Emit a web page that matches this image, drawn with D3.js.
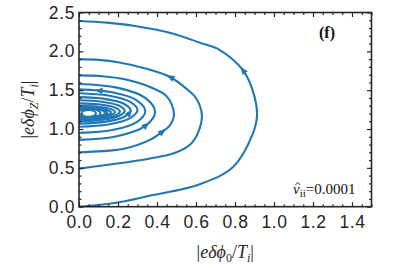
<!DOCTYPE html>
<html>
<head>
<meta charset="utf-8">
<script src="https://cdn.jsdelivr.net/npm/d3@7"></script>
<style>
  body { margin: 0; background: #fff; }
  svg { display: block; }
</style>
</head>
<body>
<div id="chart"></div>
<script>
// phase-space arcs, points ordered bottom -> right -> top (direction of the flow)
const outerArc = [[0,0],[0.19,0.05],[0.36,0.14],[0.62,0.29],[0.79,0.51],[0.89,0.93],[0.913,1.18],[0.89,1.5],[0.84,1.76],[0.72,2.02],[0.62,2.11],[0.48,2.23],[0.28,2.33],[0.14,2.37],[0,2.39]];
const arc2 = [[0,0.49],[0.12,0.53],[0.236,0.57],[0.364,0.62],[0.49,0.69],[0.57,0.8],[0.61,0.95],[0.63,1.18],[0.6,1.4],[0.56,1.5],[0.467,1.67],[0.34,1.78],[0.2,1.86],[0.1,1.89],[0,1.9]];
const arc3 = [[0,0.7],[0.12,0.715],[0.236,0.75],[0.364,0.86],[0.43,0.97],[0.467,1.05],[0.487,1.2],[0.45,1.42],[0.364,1.54],[0.236,1.64],[0.12,1.68],[0,1.69]];
const arc4 = [[0,0.86],[0.195,0.907],[0.34,1.04],[0.39,1.22],[0.34,1.4],[0.195,1.533],[0,1.58]];
const arc5 = [[0,0.95],[0.17,0.987],[0.296,1.09],[0.34,1.23],[0.296,1.37],[0.17,1.473],[0,1.51]];
const arc6 = [[0,1.03],[0.15,1.059],[0.26,1.137],[0.3,1.245],[0.26,1.352],[0.15,1.431],[0,1.46]];
const innerArcs = [
  [[0,1.07],[0.132,1.092],[0.23,1.155],[0.265,1.24],[0.23,1.325],[0.132,1.388],[0,1.41]],
  [[0,1.1],[0.118,1.118],[0.204,1.167],[0.235,1.235],[0.204,1.302],[0.118,1.352],[0,1.37]],
  [[0,1.12],[0.105,1.134],[0.183,1.172],[0.21,1.225],[0.183,1.277],[0.105,1.316],[0,1.33]],
  [[0,1.135],[0.092,1.146],[0.161,1.176],[0.185,1.218],[0.161,1.259],[0.092,1.289],[0,1.3]],
  [[0,1.145],[0.082,1.154],[0.144,1.179],[0.165,1.212],[0.144,1.246],[0.082,1.271],[0,1.28]],
  [[0,1.155],[0.072,1.162],[0.126,1.182],[0.145,1.21],[0.126,1.237],[0.072,1.258],[0,1.265]]
];
// small closed loops round the fixed point
const innerLoops = [
  [[0.013,1.202],[0.024,1.17],[0.05,1.157],[0.076,1.17],[0.087,1.202],[0.076,1.234],[0.05,1.247],[0.024,1.234]],
  [[-0.006,1.204],[0.011,1.164],[0.052,1.148],[0.093,1.164],[0.11,1.204],[0.093,1.244],[0.052,1.26],[0.011,1.244]],
  [[-0.023,1.206],[0,1.159],[0.055,1.14],[0.11,1.159],[0.133,1.206],[0.11,1.253],[0.055,1.272],[0,1.253]]
];
const arcs = [outerArc, arc2, arc3, arc4, arc5, arc6, ...innerArcs];

// arrow heads: which arc, and roughly where
const arrowArc = [0, 1, 2, 3, 4, 6];
const arrowX = [0.84, 0.467, 0.43, 0.347, 0.10, 0.262];
const arrowY = [1.76, 1.67, 0.97, 1.05, 1.51, 1.21];

const xTicks = [0, 0.2, 0.4, 0.6, 0.8, 1.0, 1.2, 1.4];
const yTicks = [0, 0.5, 1.0, 1.5, 2.0, 2.5];

const width = 407, height = 268;
const blue = "#2177b5";
const axisColor = "#262626";

const svg = d3.select("#chart").append("svg")
  .attr("width", width)
  .attr("height", height);

const x = d3.scaleLinear().domain([0, 1.5]).range([79, 371.5]);
const y = d3.scaleLinear().domain([0, 2.5]).range([206.7, 12.5]);

svg.append("clipPath").attr("id", "plot")
  .append("rect")
  .attr("x", x(0)).attr("y", y(2.5))
  .attr("width", x(1.5) - x(0)).attr("height", y(0) - y(2.5));

const line = d3.line().x(d => x(d[0])).y(d => y(d[1])).curve(d3.curveCatmullRom.alpha(0.5));
const loop = d3.line().x(d => x(d[0])).y(d => y(d[1])).curve(d3.curveCatmullRomClosed.alpha(0.5));

const g = svg.append("g").attr("clip-path", "url(#plot)");

const arcPaths = g.selectAll("path.arc")
  .data(arcs)
  .join("path")
  .attr("class", "arc")
  .attr("d", line)
  .attr("fill", "none")
  .attr("stroke", blue)
  .attr("stroke-width", 2.1);

g.selectAll("path.loop")
  .data(innerLoops)
  .join("path")
  .attr("class", "loop")
  .attr("d", loop)
  .attr("fill", "none")
  .attr("stroke", blue)
  .attr("stroke-width", 2.1);

// arrow heads along the arcs, pointing in the direction of the flow
const nodes = arcPaths.nodes();
arrowArc.forEach((ai, k) => {
  const p = nodes[ai];
  const total = p.getTotalLength();
  const tx = x(arrowX[k]), ty = y(arrowY[k]);
  let best = 0, bestD = Infinity;
  for (let l = 0; l <= total; l += 0.5) {
    const q = p.getPointAtLength(l);
    const dd = (q.x - tx) ** 2 + (q.y - ty) ** 2;
    if (dd < bestD) { bestD = dd; best = l; }
  }
  const a = p.getPointAtLength(Math.max(0, best - 1.5));
  const b = p.getPointAtLength(Math.min(total, best + 1.5));
  const ang = Math.atan2(b.y - a.y, b.x - a.x) * 180 / Math.PI;
  const c = p.getPointAtLength(best);
  g.append("path")
    .attr("d", "M4,0 L-4,-3.2 L-4,3.2 Z")
    .attr("fill", blue)
    .attr("transform", `translate(${c.x},${c.y}) rotate(${ang})`);
});

// frame with inward ticks on all four sides
const fmt = d3.format(".1f");
const xMinor = d3.range(0, 1.5001, 0.05).filter(v => Math.abs(v * 5 - Math.round(v * 5)) > 1e-6);
const yMinor = d3.range(0, 2.5001, 0.1).filter(v => Math.abs(v * 2 - Math.round(v * 2)) > 1e-6);

function styleAxis(sel) {
  sel.select(".domain").remove();
  sel.selectAll(".tick line").attr("stroke", axisColor).attr("stroke-width", 1.2);
  sel.selectAll("text")
    .attr("fill", axisColor)
    .style("font-family", "'Liberation Sans', Arial, sans-serif")
    .style("font-size", "17.5px")
    .style("letter-spacing", "0.6px");
}

svg.append("g").attr("transform", `translate(0,${y(0)})`)
  .call(d3.axisBottom(x).tickValues(xTicks).tickFormat(fmt).tickSizeInner(-4.5).tickSizeOuter(0).tickPadding(9))
  .call(styleAxis);
svg.append("g").attr("transform", `translate(0,${y(0)})`)
  .call(d3.axisBottom(x).tickValues(xMinor).tickFormat("").tickSizeInner(-2.5).tickSizeOuter(0))
  .call(styleAxis);
svg.append("g").attr("transform", `translate(0,${y(2.5)})`)
  .call(d3.axisTop(x).tickValues(xTicks).tickFormat("").tickSizeInner(-4.5).tickSizeOuter(0))
  .call(styleAxis);
svg.append("g").attr("transform", `translate(0,${y(2.5)})`)
  .call(d3.axisTop(x).tickValues(xMinor).tickFormat("").tickSizeInner(-2.5).tickSizeOuter(0))
  .call(styleAxis);

svg.append("g").attr("transform", `translate(${x(0)},0)`)
  .call(d3.axisLeft(y).tickValues(yTicks).tickFormat(fmt).tickSizeInner(-4.5).tickSizeOuter(0).tickPadding(4))
  .call(styleAxis);
svg.append("g").attr("transform", `translate(${x(0)},0)`)
  .call(d3.axisLeft(y).tickValues(yMinor).tickFormat("").tickSizeInner(-2.5).tickSizeOuter(0))
  .call(styleAxis);
svg.append("g").attr("transform", `translate(${x(1.5)},0)`)
  .call(d3.axisRight(y).tickValues(yTicks).tickFormat("").tickSizeInner(-4.5).tickSizeOuter(0))
  .call(styleAxis);
svg.append("g").attr("transform", `translate(${x(1.5)},0)`)
  .call(d3.axisRight(y).tickValues(yMinor).tickFormat("").tickSizeInner(-2.5).tickSizeOuter(0))
  .call(styleAxis);

svg.append("rect")
  .attr("x", x(0)).attr("y", y(2.5))
  .attr("width", x(1.5) - x(0)).attr("height", y(0) - y(2.5))
  .attr("fill", "none")
  .attr("stroke", axisColor)
  .attr("stroke-width", 1.6);

// math-style labels
const serif = "'Liberation Serif', 'Times New Roman', serif";

function mathLabel(t, parts) {
  parts.forEach(p => {
    t.append("tspan")
      .text(p.s)
      .attr("font-style", p.i ? "italic" : "normal")
      .attr("font-size", p.sub ? "12px" : null)
      .attr("dy", p.dy || 0);
  });
}

const xl = svg.append("text")
  .attr("x", (x(0) + x(1.5)) / 2).attr("y", 258)
  .attr("text-anchor", "middle")
  .attr("font-family", serif).attr("font-size", "18px").attr("fill", axisColor);
mathLabel(xl, [
  {s: "|"}, {s: "eδϕ", i: true}, {s: "0", sub: true, dy: 4}, {s: "/", dy: -4},
  {s: "T", i: true}, {s: "i", i: true, sub: true, dy: 4}, {s: "|", dy: -4}
]);

const yl = svg.append("text")
  .attr("transform", `translate(34,${(y(0) + y(2.5)) / 2}) rotate(-90)`)
  .attr("text-anchor", "middle")
  .attr("font-family", serif).attr("font-size", "18px").attr("fill", axisColor);
mathLabel(yl, [
  {s: "|"}, {s: "eδϕ", i: true}, {s: "Z", i: true, sub: true, dy: 4}, {s: "/", dy: -4},
  {s: "T", i: true}, {s: "i", i: true, sub: true, dy: 4}, {s: "|", dy: -4}
]);

svg.append("text")
  .attr("x", 327).attr("y", 38)
  .attr("text-anchor", "middle")
  .attr("font-family", serif).attr("font-size", "16px").attr("font-weight", "bold")
  .attr("fill", "#111")
  .text("(f)");

// ν̂_ii = 0.0001, hat drawn as a small stroke above the ν
const nu = svg.append("text")
  .attr("x", 293).attr("y", 194)
  .attr("font-family", serif).attr("font-size", "15px").attr("fill", "#111");
nu.append("tspan").attr("font-style", "italic").text("ν");
nu.append("tspan").attr("font-size", "11px").attr("dy", 3).text("ii");
nu.append("tspan").attr("dy", -3).text("=0.0001");
svg.append("path")
  .attr("d", "M295.3,185 L297.8,182.6 L300.3,185")
  .attr("fill", "none")
  .attr("stroke", "#111")
  .attr("stroke-width", 0.9);
</script>
</body>
</html>
